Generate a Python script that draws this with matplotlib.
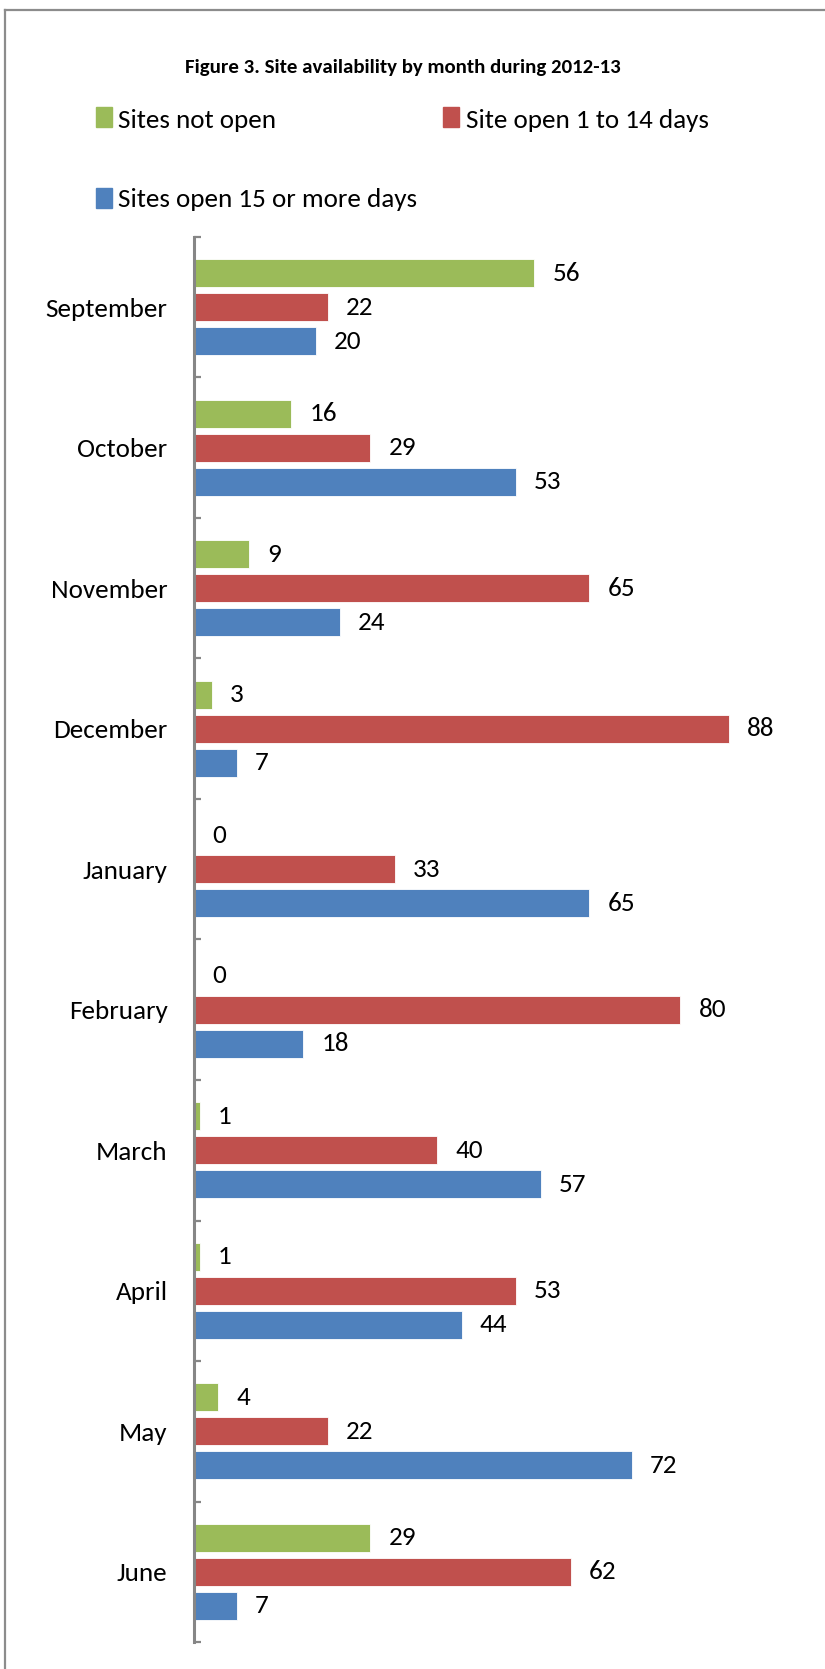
"""
Figure 3 - Site availability by month during 2012-13
Horizontal grouped bars, one group per month, three series per group.
"""

import matplotlib
matplotlib.use("Agg")
import matplotlib.pyplot as plt
from matplotlib.lines import Line2D
from matplotlib.patches import Rectangle

# === DATA ================================================================== #

MONTHS = ["September", "October", "November", "December", "January",
          "February", "March", "April", "May", "June"]

SERIES_NAMES = ["Sites not open", "Site open 1 to 14 days",
                "Sites open 15 or more days"]

NOT_OPEN = [56, 16, 9, 3, 0, 0, 1, 1, 4, 29]
OPEN_1_14 = [22, 29, 65, 88, 33, 80, 40, 53, 22, 62]
OPEN_15_PLUS = [20, 53, 24, 7, 65, 18, 57, 44, 72, 7]

TITLE = "Figure 3. Site availability by month during 2012-13"

# === STYLE ================================================================= #

COLORS = ["#9BBB59", "#C0504D", "#4F81BD"]
AXIS_GREY = "#868686"
FONT = ["Carlito", "Liberation Sans", "DejaVu Sans"]
TEXT_SIZE = 19.5

plt.rcParams["font.family"] = FONT

W, H = 825, 1669
DPI = 100


def px_x(x):
    return x / W


def px_y(y):
    # pixel row from the top -> figure fraction from the bottom
    return 1 - y / H


def main():
    fig = plt.figure(figsize=(W / DPI, H / DPI), dpi=DPI)

    # chart frame (only left and top edges are visible in the original)
    fig.add_artist(Line2D([px_x(5), px_x(5)], [0, px_y(10)],
                          color="#8c8c8c", lw=1.6))
    fig.add_artist(Line2D([px_x(5), 1], [px_y(10), px_y(10)],
                          color="#8c8c8c", lw=1.6))

    # title
    fig.text(px_x(403), px_y(73), TITLE, ha="center", va="baseline",
             fontsize=15, fontweight="bold")

    # legend drawn by hand to get the Excel layout
    # (square left, square top, text left, text baseline) in pixels
    legend_pos = [(96, 107, 118, 128), (443, 107, 466, 128),
                  (96, 188, 118, 207)]
    for (sx, sy, tx, ty), name, color in zip(legend_pos, SERIES_NAMES, COLORS):
        fig.add_artist(Rectangle((px_x(sx), px_y(sy + 20)), 16 / W, 20 / H,
                                 transform=fig.transFigure, color=color))
        fig.text(px_x(tx), px_y(ty), name, ha="left", va="baseline",
                 fontsize=TEXT_SIZE)

    # plot area
    left, right = 194, 802
    top, bottom = 237, 1642
    ax = fig.add_axes([px_x(left), px_y(bottom),
                       (right - left) / W, (bottom - top) / H])

    series = [NOT_OPEN, OPEN_1_14, OPEN_15_PLUS]
    step = 0.242
    height = 0.2
    positions = list(range(len(MONTHS)))

    for k, (values, color) in enumerate(zip(series, COLORS)):
        ys = [p + (k - 1) * step for p in positions]
        bars = ax.barh(ys, values, height=height, color=color,
                       edgecolor="white", linewidth=0.6)
        ax.bar_label(bars, labels=[str(v) for v in values], padding=13,
                     fontsize=TEXT_SIZE)

    ax.set_xlim(0, 100)
    ax.set_ylim(len(MONTHS) - 0.5, -0.5)

    ax.set_yticks(positions)
    ax.set_yticklabels(MONTHS, fontsize=TEXT_SIZE)
    ax.set_yticks([p - 0.5 for p in range(len(MONTHS) + 1)], minor=True)
    ax.tick_params(axis="y", which="major", length=0, pad=19)
    ax.tick_params(axis="y", which="minor", length=5, width=1.6,
                   direction="in", color=AXIS_GREY)
    ax.set_xticks([])

    for side in ["top", "right", "bottom"]:
        ax.spines[side].set_visible(False)
    ax.spines["left"].set_color(AXIS_GREY)
    ax.spines["left"].set_linewidth(2.2)
    ax.patch.set_alpha(0)

    fig.savefig("out.png", dpi=DPI)


if __name__ == "__main__":
    main()
